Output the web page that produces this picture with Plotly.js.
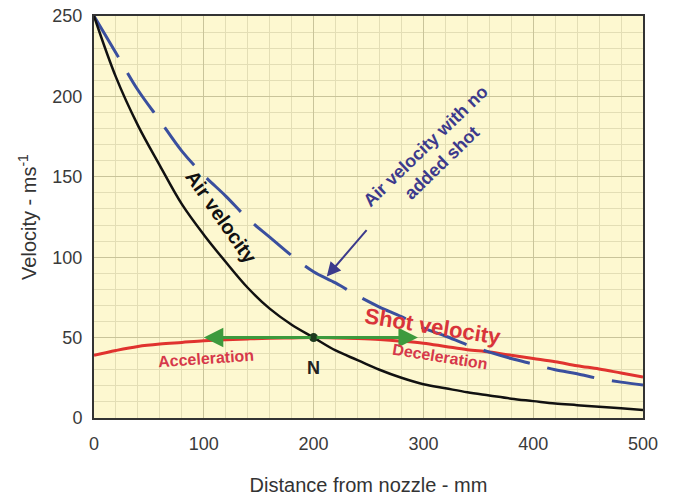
<!DOCTYPE html>
<html>
<head>
<meta charset="utf-8">
<script src="https://cdn.plot.ly/plotly-3.0.1.min.js"></script>
<style>html,body{margin:0;padding:0;background:#fff;}#chart{width:675px;height:496px;}</style>
</head>
<body>
<div id="chart"></div>
<script>
// Distance from nozzle (mm)
var distance = [0,20,40,60,80,100,120,140,160,180,200,220,240,260,280,300,320,340,360,380,400,420,440,460,480,500];
// Air velocity (with shot) - m/s
var airVelocity = [250,212,182,157,133,114,97,81,68,58,50,42,36,30,25,21,18.5,16,14,12,10.5,9,8,7,6,5];
// Air velocity with no added shot - m/s
var airNoShot = [250,227,204,185,166,151,138,124,112.5,101,91,84,76,69,63,56,51,45.5,41,37,33.5,30,27.5,24.5,22.3,20.5];
// Shot velocity - m/s
var shotVelocity = [39,42,44.5,46,47,48,48.7,49.2,49.6,49.8,50,49.8,49.4,48.8,47.8,46.5,44.5,42.5,41,39,37,35,32.5,30.5,28,25.5];
// Point N and the green acceleration / deceleration arrow
var pointN = {x: 200, y: 50};
var arrowLeftEnd = 100;
var arrowRightEnd = 295;
var xTicks = [0,100,200,300,400,500];
var yTicks = [0,50,100,150,200,250];

var font = 'Liberation Sans, Arial, sans-serif';

var traces = [
  {x: distance, y: shotVelocity, mode: 'lines', line: {color: '#e0332f', width: 3, shape: 'spline'}, hoverinfo: 'skip'},
  {x: distance, y: airNoShot, mode: 'lines', line: {color: '#3a4f9e', width: 3, dash: '48px,18px', shape: 'spline'}, hoverinfo: 'skip'},
  {x: distance, y: airVelocity, mode: 'lines', line: {color: '#111111', width: 2.5, shape: 'spline'}, hoverinfo: 'skip'},
  {x: [arrowLeftEnd + 6, arrowRightEnd - 6], y: [pointN.y, pointN.y], mode: 'lines', line: {color: '#3d9a3d', width: 3}, hoverinfo: 'skip'},
  {x: [pointN.x], y: [pointN.y], mode: 'markers', marker: {color: '#1e3a1e', size: 9}, hoverinfo: 'skip'}
];

var annotations = [
  {x: arrowLeftEnd, y: pointN.y, ax: pointN.x, ay: pointN.y, axref: 'x', ayref: 'y', xref: 'x', yref: 'y', text: ' ', showarrow: true, arrowhead: 2, arrowsize: 1.3, arrowwidth: 3, arrowcolor: '#3d9a3d'},
  {x: arrowRightEnd, y: pointN.y, ax: pointN.x, ay: pointN.y, axref: 'x', ayref: 'y', xref: 'x', yref: 'y', text: ' ', showarrow: true, arrowhead: 2, arrowsize: 1.3, arrowwidth: 3, arrowcolor: '#3d9a3d'},
  {x: 212, y: 88, ax: 251, ay: 119, axref: 'x', ayref: 'y', xref: 'x', yref: 'y', text: ' ', showarrow: true, arrowhead: 2, arrowsize: 1.4, arrowwidth: 2, arrowcolor: '#3c3a8c'},
  {x: 116, y: 125, xref: 'x', yref: 'y', text: '<b>Air velocity</b>', showarrow: false, textangle: 55, font: {family: font, size: 20, color: '#111'}},
  {x: 309, y: 164, xref: 'x', yref: 'y', text: '<b>Air velocity with no<br>added shot</b>', showarrow: false, textangle: -44, font: {family: font, size: 18, color: '#3c3a8c'}},
  {x: 309, y: 56.6, xref: 'x', yref: 'y', text: '<b>Shot velocity</b>', showarrow: false, textangle: 9, font: {family: font, size: 22, color: '#d9343a'}},
  {x: 315, y: 38, xref: 'x', yref: 'y', text: '<b>Deceleration</b>', showarrow: false, textangle: 9, font: {family: font, size: 16, color: '#d6384a'}},
  {x: 102, y: 37.3, xref: 'x', yref: 'y', text: '<b>Acceleration</b>', showarrow: false, textangle: -4, font: {family: font, size: 16, color: '#d6384a'}},
  {x: 199.5, y: 31, xref: 'x', yref: 'y', text: '<b>N</b>', showarrow: false, font: {family: font, size: 18, color: '#222'}}
];

var layout = {
  width: 675, height: 496,
  margin: {l: 94, r: 32, t: 16, b: 78},
  paper_bgcolor: '#ffffff',
  plot_bgcolor: '#fdf8d0',
  showlegend: false,
  font: {family: font},
  xaxis: {
    range: [0, 500], tickvals: xTicks, ticktext: xTicks.map(String),
    showline: true, linecolor: '#333', linewidth: 2, mirror: true,
    showgrid: true, gridcolor: '#c9c49a', gridwidth: 1, zeroline: false,
    minor: {dtick: 20, showgrid: true, gridcolor: '#e3deb5', gridwidth: 1},
    ticks: 'outside', ticklen: 8, tickcolor: 'rgba(0,0,0,0)',
    tickfont: {family: font, size: 18, color: '#3a3a3a'},
    title: {text: 'Distance from nozzle - mm', font: {family: font, size: 20, color: '#333'}, standoff: 26}
  },
  yaxis: {
    range: [0, 250], tickvals: yTicks, ticktext: yTicks.map(String),
    showline: true, linecolor: '#333', linewidth: 2, mirror: true,
    showgrid: true, gridcolor: '#c9c49a', gridwidth: 1, zeroline: false,
    minor: {dtick: 10, showgrid: true, gridcolor: '#e3deb5', gridwidth: 1},
    ticks: 'outside', ticklen: 6, tickcolor: 'rgba(0,0,0,0)',
    tickfont: {family: font, size: 18, color: '#3a3a3a'},
    title: {text: 'Velocity - ms<sup>-1</sup>', font: {family: font, size: 20, color: '#333'}, standoff: 10}
  },
  annotations: annotations
};

Plotly.newPlot('chart', traces, layout, {displayModeBar: false, staticPlot: true});
</script>
</body>
</html>
